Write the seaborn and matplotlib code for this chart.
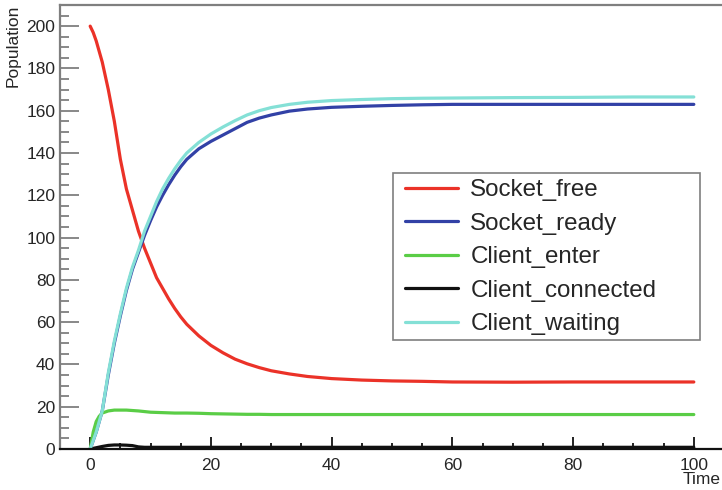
import matplotlib
matplotlib.use("Agg")
import matplotlib.pyplot as plt
from matplotlib.lines import Line2D
from matplotlib.patches import Rectangle
from matplotlib.ticker import MultipleLocator
import seaborn as sns
import pandas as pd

# Simulation output: population of each place over time
time = [0, 0.5, 1, 1.5, 2, 3, 4, 5, 6, 7, 8, 9, 10, 11, 12, 13, 14, 15, 16,
        18, 20, 22, 24, 26, 28, 30, 33, 36, 40, 45, 50, 55, 60, 70, 80, 90, 100]
socket_free = [200, 197, 193, 188, 183, 170, 155, 137, 123, 113, 103, 95, 88,
               81, 76, 71, 66.5, 62.5, 59, 53.5, 49, 45.5, 42.5, 40.3, 38.5,
               37, 35.5, 34.3, 33.3, 32.6, 32.2, 32, 31.7, 31.6, 31.7, 31.7,
               31.7]
socket_ready = [0, 4, 8, 13, 18, 35, 50, 63, 75, 85, 93, 101, 108, 114.5, 120,
                125, 129.5, 133.5, 137, 142, 145.5, 148.5, 151.5, 154.5, 156.5,
                158, 159.8, 160.8, 161.6, 162.1, 162.5, 162.8, 163, 163, 163,
                163, 163]
client_enter = [0, 8, 13, 15.5, 17, 18, 18.4, 18.4, 18.4, 18.2, 18, 17.7, 17.4,
                17.3, 17.2, 17.1, 17, 17, 17, 16.9, 16.7, 16.6, 16.5, 16.4,
                16.4, 16.3, 16.3, 16.3, 16.3, 16.3, 16.3, 16.3, 16.3, 16.3,
                16.3, 16.3, 16.3]
client_connected = [0, 0.3, 0.6, 0.9, 1.2, 1.7, 1.9, 1.9, 1.8, 1.6, 1.0, 0.8,
                    0.8, 0.8, 0.8, 0.8, 0.8, 0.8, 0.8, 0.8, 0.8, 0.8, 0.8,
                    0.8, 0.8, 0.8, 0.8, 0.8, 0.8, 0.8, 0.8, 0.8, 0.8, 0.8,
                    0.8, 0.8, 0.8]
client_waiting = [0, 4, 8, 13, 18, 36, 51, 64, 76, 86, 94, 103, 110, 117, 123,
                  128, 132.5, 136.5, 140, 145, 149, 152.3, 155.3, 158, 160,
                  161.5, 163, 164, 164.8, 165.3, 165.7, 165.9, 166, 166.2,
                  166.3, 166.5, 166.5]

series_names = ["Socket_free", "Socket_ready", "Client_enter",
                "Client_connected", "Client_waiting"]
series_values = [socket_free, socket_ready, client_enter,
                 client_connected, client_waiting]
colors = ["#eb3228", "#3241a6", "#5acd46", "#111111", "#84e0d6"]

frames = [pd.DataFrame({"Time": time, "Population": vals, "place": name})
          for name, vals in zip(series_names, series_values)]
df = pd.concat(frames, ignore_index=True)
palette = dict(zip(series_names, colors))

sns.set_style("white")
plt.rcParams["font.family"] = ["Liberation Sans", "DejaVu Sans"]

fig = plt.figure(figsize=(7.22, 4.90), dpi=100)
ax = fig.add_axes([60 / 722, 41 / 490, 664 / 722, 444 / 490])

sns.lineplot(data=df, x="Time", y="Population", hue="place",
             hue_order=series_names, palette=palette, linewidth=2.3,
             legend=False, ax=ax, estimator=None, sort=False)

ax.set_xlim(-5, 105)
ax.set_ylim(0, 210)

ax.xaxis.set_major_locator(MultipleLocator(20))
ax.xaxis.set_minor_locator(MultipleLocator(5))
ax.yaxis.set_major_locator(MultipleLocator(20))
ax.yaxis.set_minor_locator(MultipleLocator(5))

ax.tick_params(axis="y", which="both", direction="in", left=True,
               color="#7f7f7f", width=1.3, labelsize=12.5, pad=3.5)
ax.tick_params(axis="y", which="major", length=13.5)
ax.tick_params(axis="y", which="minor", length=6.5)
ax.tick_params(axis="x", which="both", direction="in", bottom=True,
               color="#111111", width=1.3, labelsize=12.5, pad=6.5)
ax.tick_params(axis="x", which="major", length=9)
ax.tick_params(axis="x", which="minor", length=4.5)

for side in ("left", "top"):
    ax.spines[side].set_color("#7f7f7f")
    ax.spines[side].set_linewidth(1.6)
ax.spines["bottom"].set_color("#111111")
ax.spines["bottom"].set_linewidth(1.6)
ax.spines["right"].set_visible(False)

ax.set_ylabel("Population", loc="top", fontsize=12.5)
ax.yaxis.set_label_coords(-0.059, 1.0)
ax.set_xlabel("Time", loc="right", fontsize=12.5)
ax.xaxis.set_label_coords(0.9955, -0.052)

# Legend with a fixed-size box
fig.add_artist(Rectangle((393 / 722, 1 - 340 / 490), 307 / 722, 167 / 490,
                         transform=fig.transFigure, facecolor="white",
                         edgecolor="#7f7f7f", linewidth=1.2, zorder=4))
handles = [Line2D([], [], color=c, linewidth=2.3) for c in colors]
leg = fig.legend(handles, series_names, loc="upper left",
                 bbox_to_anchor=(405 / 722, 1 - 179 / 490),
                 frameon=False, fontsize=17.4, handlelength=2.2,
                 handletextpad=0.5, labelspacing=0.48, borderpad=0,
                 borderaxespad=0)
leg.set_zorder(5)

fig.savefig("out.png", dpi=100)
